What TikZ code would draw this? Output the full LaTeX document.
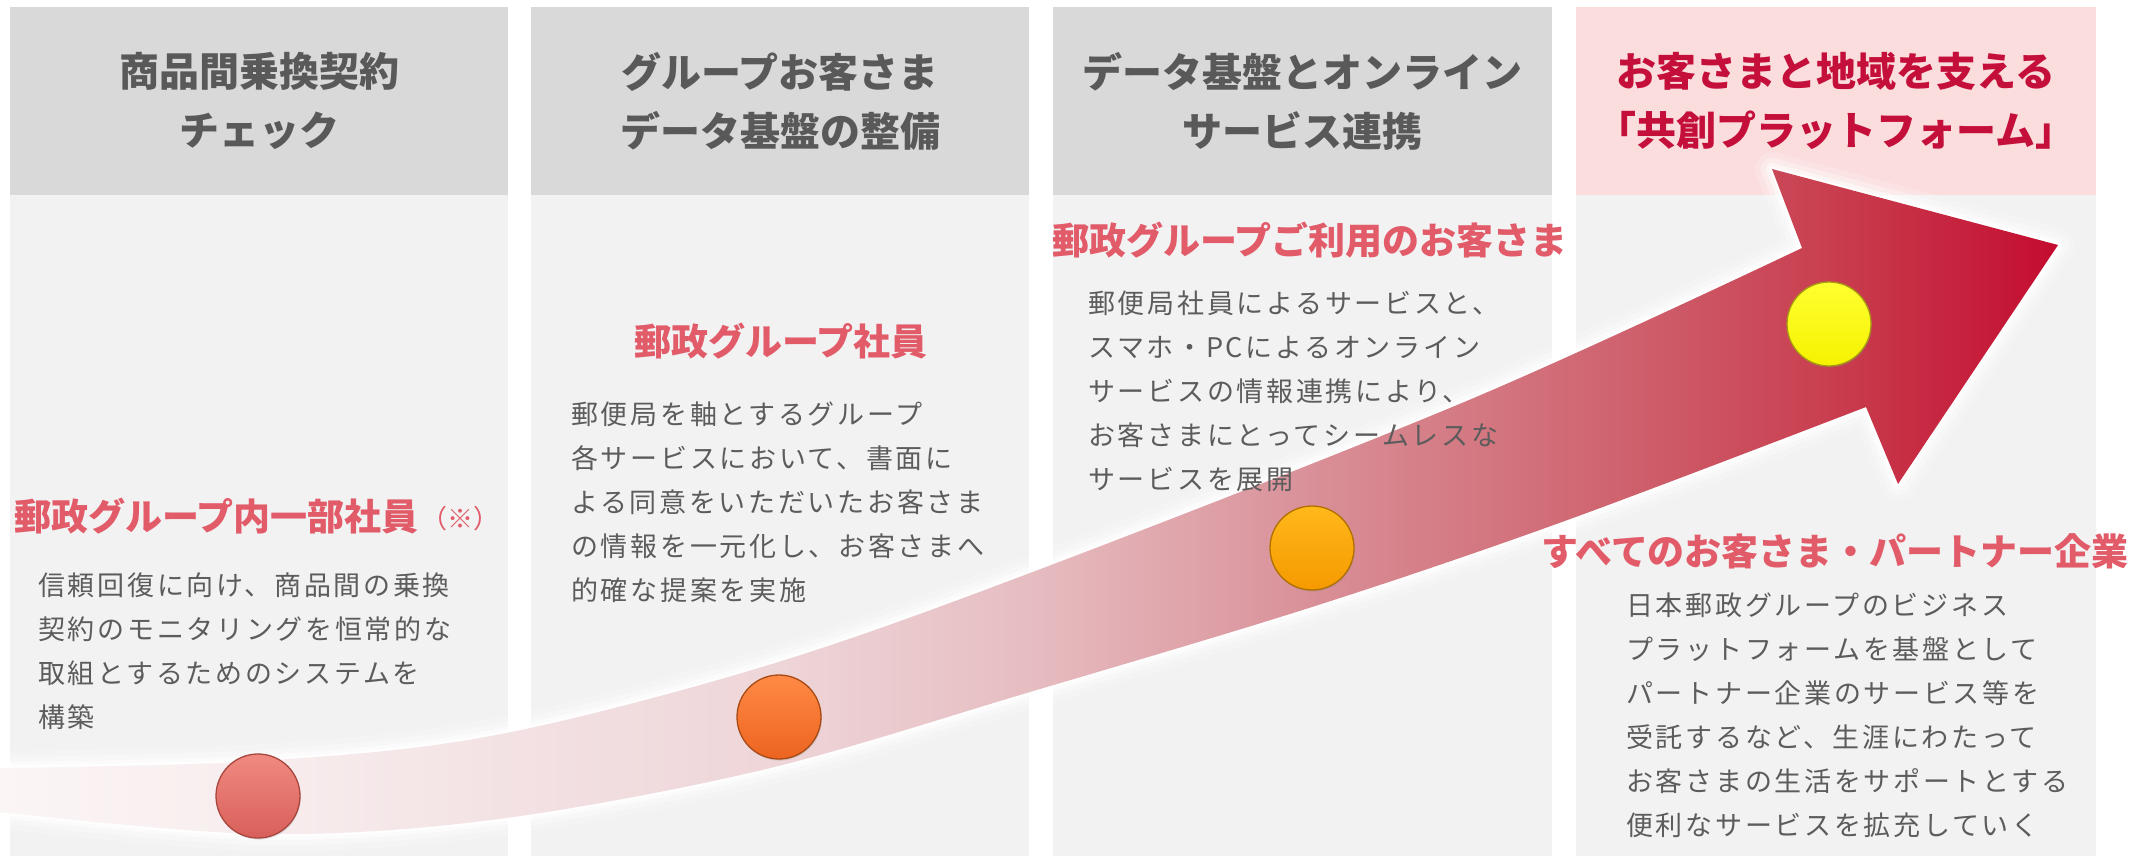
\documentclass[tikz,border=0pt]{standalone}
\usepackage{fontspec}
\setmainfont{Noto Sans CJK JP}
\usetikzlibrary{shadows}
\definecolor{hdrgray}{HTML}{D9D9D9}
\definecolor{bodygray}{HTML}{F2F2F2}
\definecolor{hdrpink}{HTML}{FADDDC}
\definecolor{hdrtext}{HTML}{595959}
\definecolor{crimson}{HTML}{C40F3A}
\definecolor{titlered}{HTML}{E25B69}
\definecolor{bodytext}{HTML}{5C5C5C}
\definecolor{bA}{HTML}{FBF5F5}
\definecolor{bB}{HTML}{F7ECED}
\definecolor{bC}{HTML}{EED5D8}
\definecolor{bD}{HTML}{E6BDC1}
\definecolor{bE}{HTML}{D98F97}
\definecolor{bF}{HTML}{CF6570}
\definecolor{bG}{HTML}{C83A4C}
\definecolor{bH}{HTML}{C40C30}
\pgfdeclarehorizontalshading{bandshade}{100bp}{color(0bp)=(bA); color(25bp)=(bA); color(32bp)=(bB); color(44bp)=(bC); color(50bp)=(bD); color(57bp)=(bE); color(64bp)=(bF); color(70bp)=(bG); color(75bp)=(bH); color(100bp)=(bH)}
\definecolor{redtop}{HTML}{F08A80}
\definecolor{redbot}{HTML}{D85F5A}
\definecolor{redrim}{HTML}{A8463F}
\definecolor{ortop}{HTML}{FF8A45}
\definecolor{orbot}{HTML}{EC6420}
\definecolor{orrim}{HTML}{A84A15}
\definecolor{ambtop}{HTML}{FFB81A}
\definecolor{ambbot}{HTML}{F59A00}
\definecolor{ambrim}{HTML}{B07000}
\definecolor{yeltop}{HTML}{FFFF30}
\definecolor{yelbot}{HTML}{F6F200}
\definecolor{yelrim}{HTML}{A89A10}
\newcommand{\bandpath}{plot[smooth, tension=0.55] coordinates {(0,768) (259,761) (491,736) (762,667) (1030,573) (1469,400) (1802,248)} -- (1772,169) -- (2058,245) -- (1898,484) -- (1866,407) -- plot[smooth, tension=0.55] coordinates {(1866,407) (1562,522) (1312,607) (1030,692) (762,770) (491,820) (259,834) (0,812)} -- cycle}
\tikzset{
  hdrbox/.style={fill=hdrgray},
  bodybox/.style={fill=bodygray},
  hdrlabel/.style={font=\fontsize{40}{59}\selectfont\bfseries, text=hdrtext, align=center, inner sep=0pt},
  titlelabel/.style={font=\fontsize{37}{44}\selectfont\bfseries, text=titlered, inner sep=0pt},
  bodylabel/.style={font=\fontsize{27}{44}\selectfont\addfontfeatures{LetterSpace=10}, text=bodytext, align=left, inner sep=0pt, anchor=north west},
  btn/.style={circle, inner sep=0pt, minimum size=84pt, line width=1.3pt, drop shadow={shadow xshift=0.8pt, shadow yshift=-1.6pt, opacity=0.25}},
}
\begin{document}
\begin{tikzpicture}[x=1pt, y=-1pt]
\useasboundingbox (0,0) rectangle (2143,856);
\fill[white] (0,0) rectangle (2143,856);
% columns
\fill[hdrbox] (10,7) rectangle (508,195);
\fill[bodybox] (10,195) rectangle (508,856);
\fill[hdrbox] (531,7) rectangle (1029,195);
\fill[bodybox] (531,195) rectangle (1029,856);
\fill[hdrbox] (1053,7) rectangle (1552,195);
\fill[bodybox] (1053,195) rectangle (1552,856);
\fill[fill=hdrpink] (1576,7) rectangle (2096,195);
\fill[bodybox] (1576,195) rectangle (2096,856);
% band glow and band
\path[draw=white, line width=34pt, opacity=0.18, line join=round] \bandpath;
\path[draw=white, line width=22pt, opacity=0.3, line join=round] \bandpath;
\path[draw=white, line width=12pt, opacity=0.5, line join=round] \bandpath;
\path[draw=white, line width=5pt, opacity=0.8, line join=round] \bandpath;
\path[shading=bandshade] \bandpath;
% buttons
\node[btn, draw=redrim, top color=redtop, bottom color=redbot] (c1) at (258,796) {};
\node[btn, draw=orrim, top color=ortop, bottom color=orbot] (c2) at (779,717) {};
\node[btn, draw=ambrim, top color=ambtop, bottom color=ambbot] (c3) at (1312,548) {};
\node[btn, draw=yelrim, top color=yeltop, bottom color=yelbot] (c4) at (1829,324) {};
% headers
\node[hdrlabel] (h1) at (259,101) {商品間乗換契約\\チェック};
\node[hdrlabel] (h2) at (780,101) {グループお客さま\\データ基盤の整備};
\node[hdrlabel] (h3) at (1302,101) {データ基盤とオンライン\\サービス連携};
\node[hdrlabel, text=crimson] (h4) at (1836,101) {お客さまと地域を支える\\「共創プラットフォーム」};
% titles
\node[titlelabel, anchor=west] (t1) at (14,516) {郵政グループ内一部社員};
\node[font=\fontsize{26}{30}\selectfont, text=titlered, inner sep=0pt, anchor=west] (t1n) at ([xshift=2pt, yshift=-3pt]t1.east) {（※）};
\node[titlelabel] (t2) at (781,341) {郵政グループ社員};
\node[titlelabel] (t3) at (1310,240) {郵政グループご利用のお客さま};
\node[titlelabel] (t4) at (1835,551) {すべてのお客さま・パートナー企業};
% body texts
\node[bodylabel] (p1) at (38,573) {信頼回復に向け、商品間の乗換\\契約のモニタリングを恒常的な\\取組とするためのシステムを\\構築};
\node[bodylabel] (p2) at (571,402) {郵便局を軸とするグループ\\各サービスにおいて、書面に\\よる同意をいただいたお客さま\\の情報を一元化し、お客さまへ\\的確な提案を実施};
\node[bodylabel] (p3) at (1088,291) {郵便局社員によるサービスと、\\スマホ・PCによるオンライン\\サービスの情報連携により、\\お客さまにとってシームレスな\\サービスを展開};
\node[bodylabel] (p4) at (1626,593) {日本郵政グループのビジネス\\プラットフォームを基盤として\\パートナー企業のサービス等を\\受託するなど、生涯にわたって\\お客さまの生活をサポートとする\\便利なサービスを拡充していく};
\end{tikzpicture}
\end{document}
